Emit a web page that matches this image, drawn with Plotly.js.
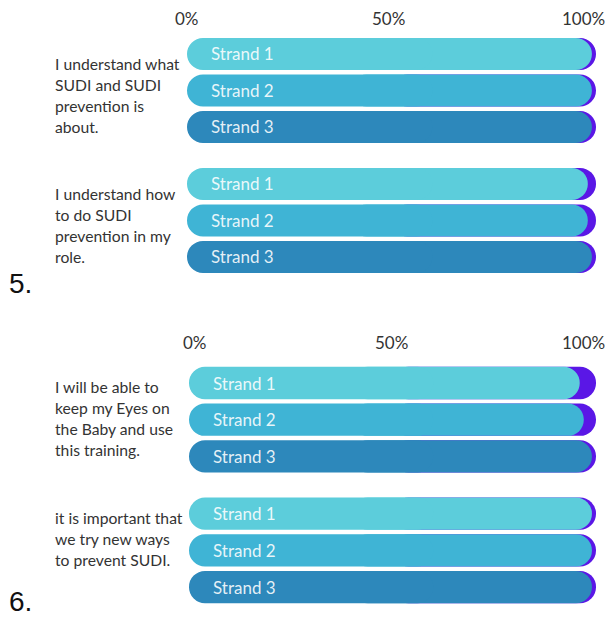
<!DOCTYPE html>
<html><head><meta charset="utf-8">
<script src="https://cdn.plot.ly/plotly-3.0.1.min.js"></script>
<style>html,body{margin:0;padding:0;background:#fff}#chart{width:610px;height:619px}</style>
</head><body><div id="chart"></div>
<script>
// ---- data ----
const strands = ['Strand 1', 'Strand 2', 'Strand 3'];
const tickValues = [0, 50, 100];
const tickLabels = ['0%', '50%', '100%'];
const panelNumbers = ['5.', '6.'];
const questions5 = [
  ['I understand what', 'SUDI and SUDI', 'prevention is', 'about.'],
  ['I understand how', 'to do SUDI', 'prevention in my', 'role.']
];
const questions6 = [
  ['I will be able to', 'keep my Eyes on', 'the Baby and use', 'this training.'],
  ['it is important that', 'we try new ways', 'to prevent SUDI.']
];
// percentage in the main (teal) segment; remainder (purple) up to 100%
const agree5 = [[99, 99, 99], [98, 98, 99]];
const agree6 = [[96, 97, 99], [99, 99, 99]];
const total = 100;

// ---- style ----
const strandColors = ['#5ccddb', '#3fb4d5', '#2d88bb'];
const remainderColor = '#5a17e6';
const groupStep = 3.56;
const barW = 0.88;
const textFont = 'Lato, "Open Sans", sans-serif';

const panels = [
  {q: questions5, v: agree5, xa: 'x', ya: 'y', textOffset: 10, tickShift: [0, -3, -13], num: 284, tickY: 18},
  {q: questions6, v: agree6, xa: 'x2', ya: 'y2', textOffset: 4, tickShift: [6, -1, -13], num: 601, tickY: 342}
];

const traces = [];
const annotations = [];
panels.forEach((p, pi) => {
  const ys = [], vals = [], cols = [];
  p.v.forEach((grp, g) => grp.forEach((val, s) => {
    ys.push(g * groupStep + s); vals.push(val); cols.push(strandColors[s]);
  }));
  const common = {type: 'bar', orientation: 'h', y: ys, width: barW, xaxis: p.xa, yaxis: p.ya,
    hoverinfo: 'skip', showlegend: false};
  // remainder (full bar up to total), drawn underneath
  traces.push(Object.assign({}, common, {
    base: ys.map(() => total / 2), x: ys.map(() => total / 2),
    marker: {color: remainderColor, line: {width: 0}, cornerradius: '50%'}
  }));
  // main segment, right half (rounded at value end)
  traces.push(Object.assign({}, common, {
    base: ys.map(() => 40), x: vals.map(v => v - 40),
    marker: {color: cols, line: {width: 0}, cornerradius: '50%'}
  }));
  // main segment, left half (rounded at 0)
  traces.push(Object.assign({}, common, {
    base: ys.map(() => 60), x: ys.map(() => -60),
    marker: {color: cols, line: {width: 0}, cornerradius: '50%'}
  }));
  // strand labels
  ys.forEach((y, i) => annotations.push({
    xref: p.xa, yref: p.ya, x: 0, y: y, xanchor: 'left', yanchor: 'middle', xshift: 22,
    text: strands[i % 3], showarrow: false,
    font: {family: textFont, size: 17, color: 'rgba(255,255,255,0.88)'}
  }));
  // question text
  p.q.forEach((lines, g) => lines.forEach((line, li) => annotations.push({
    xref: 'paper', yref: p.ya, x: 53 / 610, y: g * groupStep, xanchor: 'left', yanchor: 'middle',
    yshift: -(p.textOffset + 21 * li), text: line, showarrow: false, align: 'left',
    font: {family: textFont, size: 15.7, color: '#333'}
  })));
  // tick labels
  tickValues.forEach((tv, ti) => annotations.push({
    xref: p.xa, yref: 'paper', x: tv, y: 1 - p.tickY / 619, xanchor: 'center', yanchor: 'middle',
    xshift: p.tickShift[ti], text: tickLabels[ti], showarrow: false,
    font: {family: textFont, size: 17, color: '#333'}
  }));
  // panel number
  annotations.push({
    xref: 'paper', yref: 'paper', x: 7 / 610, y: 1 - p.num / 619, xanchor: 'left', yanchor: 'middle',
    text: panelNumbers[pi], showarrow: false,
    font: {family: '"Liberation Sans", Arial, sans-serif', size: 28, color: '#111'}
  });
});

const axX = {range: [0, total], showgrid: false, zeroline: false, showticklabels: false, showline: false, fixedrange: true};
const axY = {range: [groupStep + 2.5, -0.5], showgrid: false, zeroline: false, showticklabels: false, showline: false, fixedrange: true};

const layout = {
  width: 610, height: 619,
  margin: {l: 0, r: 0, t: 0, b: 0},
  paper_bgcolor: '#fff', plot_bgcolor: '#fff',
  barmode: 'overlay',
  xaxis: Object.assign({}, axX, {domain: [187 / 610, 596 / 610], anchor: 'y'}),
  yaxis: Object.assign({}, axY, {domain: [1 - 275.2 / 619, 1 - 35.75 / 619], anchor: 'x'}),
  xaxis2: Object.assign({}, axX, {domain: [189 / 610, 596 / 610], anchor: 'y2'}),
  yaxis2: Object.assign({}, axY, {domain: [1 - 605.4 / 619, 1 - 364.65 / 619], anchor: 'x2'}),
  annotations: annotations
};

Plotly.newPlot('chart', traces, layout, {displayModeBar: false, staticPlot: true});
</script>
</body></html>
